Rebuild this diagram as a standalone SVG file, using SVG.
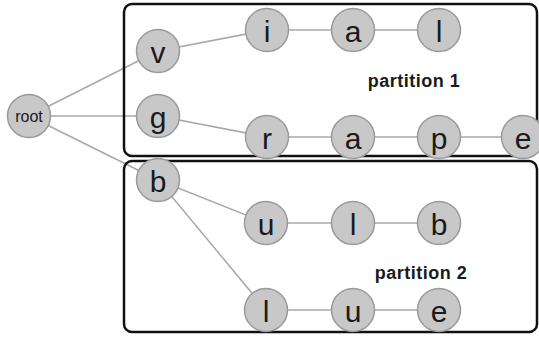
<svg xmlns="http://www.w3.org/2000/svg" width="539" height="337" viewBox="0 0 539 337">
<style>
.edge{stroke:#a8a8a8;stroke-width:1.5;fill:none}
.box{fill:none;stroke:#111;stroke-width:2.5}
.node circle{fill:#c8c8c8;stroke:#9a9a9a;stroke-width:1.5}
.node text{font-family:"Liberation Sans",Arial,sans-serif;font-size:30px;fill:#1a1a1a;text-anchor:middle}
.node text.small{font-size:16px}
.label{font-family:"Liberation Sans",Arial,sans-serif;font-size:18px;font-weight:bold;letter-spacing:0.5px;fill:#1a1a1a;text-anchor:middle}
</style>
<rect width="539" height="337" fill="#fff"/>
<g id="connectors">
<line class="edge" x1="29" y1="116" x2="158" y2="51"/>
<line class="edge" x1="29" y1="116" x2="158" y2="116"/>
<line class="edge" x1="29" y1="116" x2="158" y2="180"/>
<line class="edge" x1="158" y1="51" x2="267" y2="30"/>
<line class="edge" x1="267" y1="30" x2="439" y2="30"/>
<line class="edge" x1="158" y1="116" x2="267" y2="137"/>
<line class="edge" x1="267" y1="137" x2="523" y2="137"/>
<line class="edge" x1="158" y1="180" x2="266" y2="223"/>
<line class="edge" x1="266" y1="223" x2="439" y2="223"/>
<line class="edge" x1="158" y1="180" x2="266" y2="310"/>
<line class="edge" x1="266" y1="310" x2="439" y2="310"/>
</g>
<g id="partition1">
<rect class="box" x="124" y="4" width="413" height="152" rx="8"/>
<text class="label" x="414" y="86.5">partition 1</text>
</g>
<g id="partition2">
<rect class="box" x="124" y="161" width="413" height="171" rx="8"/>
<text class="label" x="421" y="278.5">partition 2</text>
</g>
<g id="root" class="node"><circle cx="29" cy="116" r="21.5"/><text class="small" x="29" y="121.7">root</text></g>
<g id="v" class="node"><circle cx="158" cy="51" r="21.5"/><text x="158" y="62.5">v</text></g>
<g id="g" class="node"><circle cx="158" cy="116" r="21.5"/><text x="158" y="127.5">g</text></g>
<g id="b" class="node"><circle cx="158" cy="180" r="21.5"/><text x="158" y="191.5">b</text></g>
<g id="v-i" class="node"><circle cx="267" cy="30" r="21.5"/><text x="267" y="41.5">i</text></g>
<g id="v-a" class="node"><circle cx="353" cy="30" r="21.5"/><text x="353" y="41.5">a</text></g>
<g id="v-l" class="node"><circle cx="439" cy="30" r="21.5"/><text x="439" y="41.5">l</text></g>
<g id="g-r" class="node"><circle cx="267" cy="137" r="21.5"/><text x="267" y="148.5">r</text></g>
<g id="g-a" class="node"><circle cx="353" cy="137" r="21.5"/><text x="353" y="148.5">a</text></g>
<g id="g-p" class="node"><circle cx="439" cy="137" r="21.5"/><text x="439" y="148.5">p</text></g>
<g id="g-e" class="node"><circle cx="523" cy="137" r="21.5"/><text x="523" y="148.5">e</text></g>
<g id="b-u" class="node"><circle cx="266" cy="223" r="21.5"/><text x="266" y="234.5">u</text></g>
<g id="b-l" class="node"><circle cx="353" cy="223" r="21.5"/><text x="353" y="234.5">l</text></g>
<g id="b-b" class="node"><circle cx="439" cy="223" r="21.5"/><text x="439" y="234.5">b</text></g>
<g id="b-l2" class="node"><circle cx="266" cy="310" r="21.5"/><text x="266" y="321.5">l</text></g>
<g id="b-u2" class="node"><circle cx="353" cy="310" r="21.5"/><text x="353" y="321.5">u</text></g>
<g id="b-e2" class="node"><circle cx="439" cy="310" r="21.5"/><text x="439" y="321.5">e</text></g>
</svg>
